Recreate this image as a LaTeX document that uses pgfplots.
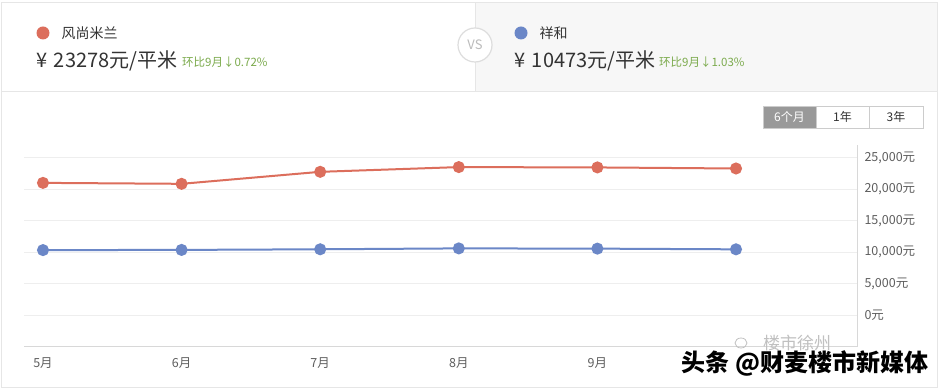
\documentclass[border=0pt]{standalone}
\usepackage{pgfplots}
\pgfplotsset{compat=1.18}
\usepackage{fontspec}
\setmainfont{Noto Sans CJK SC}
\definecolor{redl}{HTML}{DC6E5C}
\definecolor{bluel}{HTML}{6B87C7}
\definecolor{greent}{HTML}{7BAA4C}
\definecolor{txt}{HTML}{333333}
\definecolor{tick}{HTML}{5E5E5E}
\definecolor{gridc}{HTML}{EEEEEE}
\definecolor{axc}{HTML}{D8D8D8}
\definecolor{hdrbg}{HTML}{F7F7F7}
\definecolor{bordc}{HTML}{E6E6E6}
\definecolor{vsc}{HTML}{DDDDDD}
\definecolor{vst}{HTML}{BBBBBB}
\definecolor{btng}{HTML}{999999}
\definecolor{btnb}{HTML}{CCCCCC}
\definecolor{wm}{HTML}{C0C0C0}
\begin{document}
\begin{tikzpicture}[x=1pt,y=1pt]
\path[use as bounding box] (0,0) rectangle (938,388);
\fill[white] (0,0) rectangle (938,388);
% header
\fill[hdrbg] (475,297) rectangle (937,386);
\draw[bordc] (1,1) rectangle (937,386);
\draw[bordc] (1,297) -- (937,297);
\draw[bordc] (475,297) -- (475,386);
\filldraw[fill=white,draw=vsc, line width=1.2] (475,343) circle (17);
\node[text=vst,font=\fontsize{13}{15}\selectfont] at (475,343) {VS};
% left
\fill[redl] (43,355) circle (6.5);
\node[anchor=west,text=txt,font=\fontsize{14}{16}\selectfont] at (58,355) {风尚米兰};
\node[anchor=west,text=txt,font=\fontsize{20}{22}\selectfont,inner sep=0] at (36,327) {¥\,\,23278元/平米};
\node[anchor=west,text=greent,font=\fontsize{11.5}{13}\selectfont,inner sep=0] at (182,326) {环比9月↓0.72\%};
% right
\fill[bluel] (521,355) circle (6.5);
\node[anchor=west,text=txt,font=\fontsize{14}{16}\selectfont] at (536,355) {祥和};
\node[anchor=west,text=txt,font=\fontsize{20}{22}\selectfont,inner sep=0] at (514,327) {¥\,\,10473元/平米};
\node[anchor=west,text=greent,font=\fontsize{11.5}{13}\selectfont,inner sep=0] at (659,326) {环比9月↓1.03\%};
% buttons
\fill[btng] (763,260) rectangle (816,282);
\draw[btnb] (763,260) rectangle (923,282);
\draw[btnb] (816,260) -- (816,282);
\draw[btnb] (869,260) -- (869,282);
\node[text=white,font=\fontsize{12}{14}\selectfont] at (789.5,271) {6个月};
\node[text=txt,font=\fontsize{12}{14}\selectfont] at (842.5,271) {1年};
\node[text=txt,font=\fontsize{12}{14}\selectfont] at (896,271) {3年};
\begin{axis}[
  at={(24pt,41pt)}, anchor=south west,
  width=833pt, height=202pt, scale only axis,
  xmin=-0.137, xmax=5.873, ymin=-5000, ymax=27000,
  axis x line*=bottom, axis y line*=right,
  axis line style={axc, line width=1pt, -},
  xtick={0,1,2,3,4,5}, xticklabels={5月,6月,7月,8月,9月,},
  ytick={0,5000,10000,15000,20000,25000},
  major tick length=0pt,
  ymajorgrids, grid style={gridc, line width=0.8pt},
  scaled y ticks=false,
  /pgf/number format/1000 sep={,},
  /pgf/number format/assume math mode=true,
  yticklabel={\pgfmathprintnumber{\tick}元},
  yticklabel style={anchor=west, xshift=4pt, text=tick, font=\fontsize{12.5}{14}\selectfont},
  xticklabel style={yshift=-7pt, text=tick, font=\fontsize{12.5}{14}\selectfont},
  clip=false,
]
\addplot[redl, line width=2pt, mark=*, mark size=5pt, mark options={fill=redl, draw=redl}] coordinates {
 (0,21000) (1,20850) (2,22750) (3,23500) (4,23447) (5,23278)};
\addplot[bluel, line width=2pt, mark=*, mark size=5pt, mark options={fill=bluel, draw=bluel}] coordinates {
 (0,10350) (1,10380) (2,10480) (3,10620) (4,10582) (5,10473)};
\end{axis}
% watermarks
\draw[wm, line width=0.8] (741,45) ellipse (6 and 5);
\node[text=wm,font=\fontsize{17}{19}\selectfont] at (797,45) {楼市徐州};
\node[anchor=east,text=black,font=\fontsize{24}{26}\selectfont\bfseries] at (932,25) {头条 @财麦楼市新媒体};
\end{tikzpicture}
\end{document}
